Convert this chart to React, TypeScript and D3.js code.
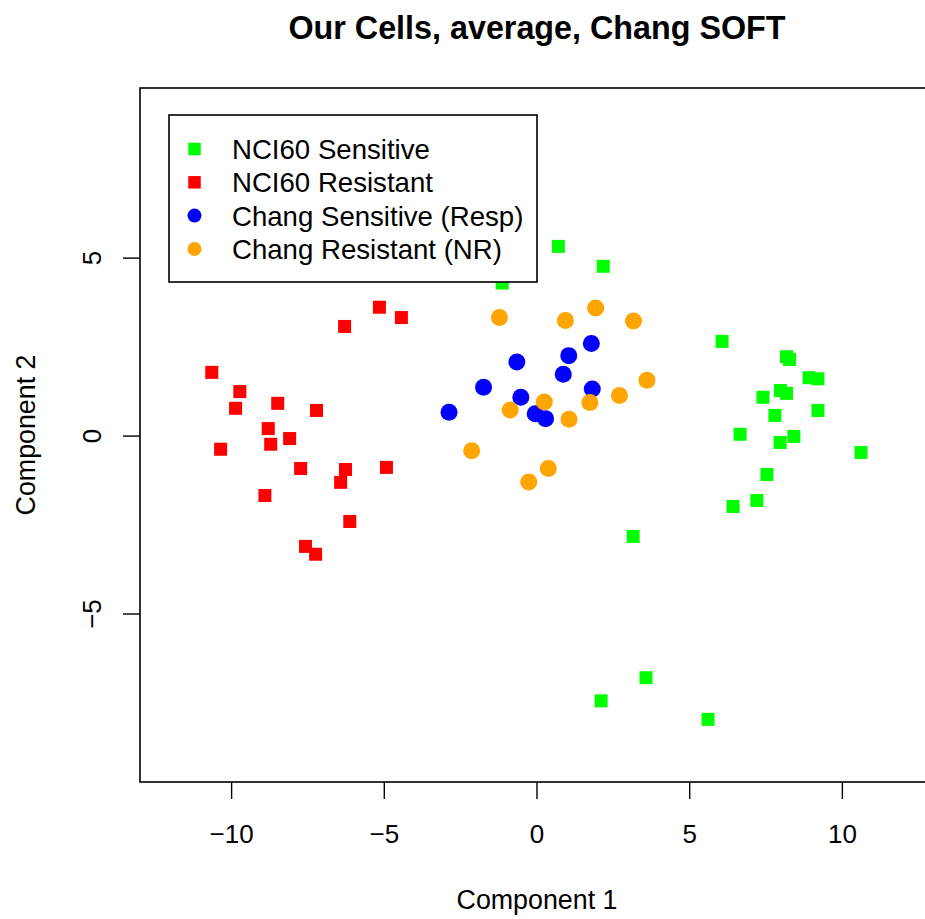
import React from "react";
import * as d3 from "d3";

// [component 1, component 2] per sample
const nciSensitive: [number, number][] = [
  [6.06, 2.66], [8.17, 2.23], [8.27, 2.15], [8.91, 1.64], [9.2, 1.61], [7.97, 1.28],
  [8.17, 1.2], [7.4, 1.09], [9.2, 0.72], [7.79, 0.58], [6.65, 0.05], [8.41, -0.01],
  [7.96, -0.18], [10.61, -0.46], [7.53, -1.08], [7.2, -1.81], [6.42, -1.98], [3.15, -2.82],
  [3.57, -6.79], [2.1, -7.44], [5.6, -7.96], [0.7, 5.33], [2.17, 4.77], [-1.14, 4.3],
];
const nciResistant: [number, number][] = [
  [-5.16, 3.62], [-4.44, 3.33], [-6.3, 3.08], [-10.65, 1.79], [-9.73, 1.25], [-9.87, 0.78],
  [-8.49, 0.92], [-7.22, 0.72], [-8.8, 0.21], [-8.1, -0.07], [-8.72, -0.23], [-10.36, -0.37],
  [-7.74, -0.91], [-6.27, -0.94], [-4.93, -0.88], [-6.43, -1.3], [-8.91, -1.67], [-6.13, -2.4],
  [-7.58, -3.1], [-7.25, -3.32],
];
const changSensitive: [number, number][] = [
  [-2.88, 0.67], [-1.75, 1.37], [-0.66, 2.08], [-0.53, 1.09], [-0.06, 0.63],
  [0.28, 0.49], [0.86, 1.74], [1.04, 2.26], [1.78, 2.6], [1.81, 1.32],
];
const changResistant: [number, number][] = [
  [-1.23, 3.33], [0.93, 3.25], [1.92, 3.6], [3.16, 3.23], [3.6, 1.57], [2.7, 1.14], [1.73, 0.94],
  [0.24, 0.96], [-0.88, 0.73], [1.05, 0.47], [-2.14, -0.41], [0.37, -0.91], [-0.27, -1.29],
];

const groupNames = ["NCI60 Sensitive", "NCI60 Resistant", "Chang Sensitive (Resp)", "Chang Resistant (NR)"];
const groupColors = ["#00ff00", "#ff0000", "#0000ff", "#ffa500"];
const groupShapes = ["square", "square", "circle", "circle"];
const groupData = [nciSensitive, nciResistant, changSensitive, changResistant];

const xTicks = [-10, -5, 0, 5, 10];
const yTicks = [-5, 0, 5];

const W = 925, H = 919;
const font = "'Liberation Sans', Arial, Helvetica, sans-serif";

export default function App() {
  const left = 140, right = 934, top = 88, bottom = 782;
  const x = d3.scaleLinear().domain([-13, 13]).range([left, right]);
  const y = d3.scaleLinear().domain([-9.72, 9.78]).range([bottom, top]);
  const fs = 26;

  const mark = (shape: string, color: string, cx: number, cy: number, key: string, sq = 13, r = 8.5) =>
    shape === "square"
      ? <rect key={key} x={cx - sq / 2} y={cy - sq / 2} width={sq} height={sq} fill={color} />
      : <circle key={key} cx={cx} cy={cy} r={r} fill={color} />;

  const legX = 169, legY = 115, legW = 368, legH = 167;
  const rowY = (i: number) => 149 + i * 33.3;

  return (
    <svg width={W} height={H} style={{ position: "absolute", left: 0, top: 0, background: "#fff" }}
      fontFamily={font}>
      <rect width={W} height={H} fill="#fff" />
      <text x={(left + right) / 2} y={39} textAnchor="middle" fontWeight="bold" fontSize={32.3}>
        Our Cells, average, Chang SOFT
      </text>

      {groupData.map((pts, g) =>
        pts.map((p, i) => mark(groupShapes[g], groupColors[g], x(p[0]), y(p[1]), `${g}-${i}`))
      )}

      <rect x={left} y={top} width={right - left} height={bottom - top} fill="none" stroke="#000" strokeWidth={1.6} />

      {xTicks.map(t => (
        <g key={t}>
          <line x1={x(t)} x2={x(t)} y1={bottom} y2={bottom + 17} stroke="#000" strokeWidth={1.4} />
          <text x={x(t)} y={843} textAnchor="middle" fontSize={fs}>{t < 0 ? `\u2212${-t}` : t}</text>
        </g>
      ))}
      {yTicks.map(t => (
        <g key={t}>
          <line x1={left - 17} x2={left} y1={y(t)} y2={y(t)} stroke="#000" strokeWidth={1.4} />
          <text transform={`translate(101,${y(t)}) rotate(-90)`} textAnchor="middle" fontSize={fs}>
            {t < 0 ? `\u2212${-t}` : t}
          </text>
        </g>
      ))}

      <text x={(left + right) / 2} y={909} textAnchor="middle" fontSize={26.8}>Component 1</text>
      <text transform={`translate(35,${(top + bottom) / 2}) rotate(-90)`} textAnchor="middle" fontSize={26.8}>
        Component 2
      </text>

      <rect x={legX} y={legY} width={legW} height={legH} fill="#fff" stroke="#000" strokeWidth={1.6} />
      {groupNames.map((name, i) => (
        <g key={name}>
          {mark(groupShapes[i], groupColors[i], 194.5, rowY(i), `leg-${i}`, 12.5, 7)}
          <text x={232} y={rowY(i) + 10} fontSize={27.6}>{name}</text>
        </g>
      ))}
    </svg>
  );
}
